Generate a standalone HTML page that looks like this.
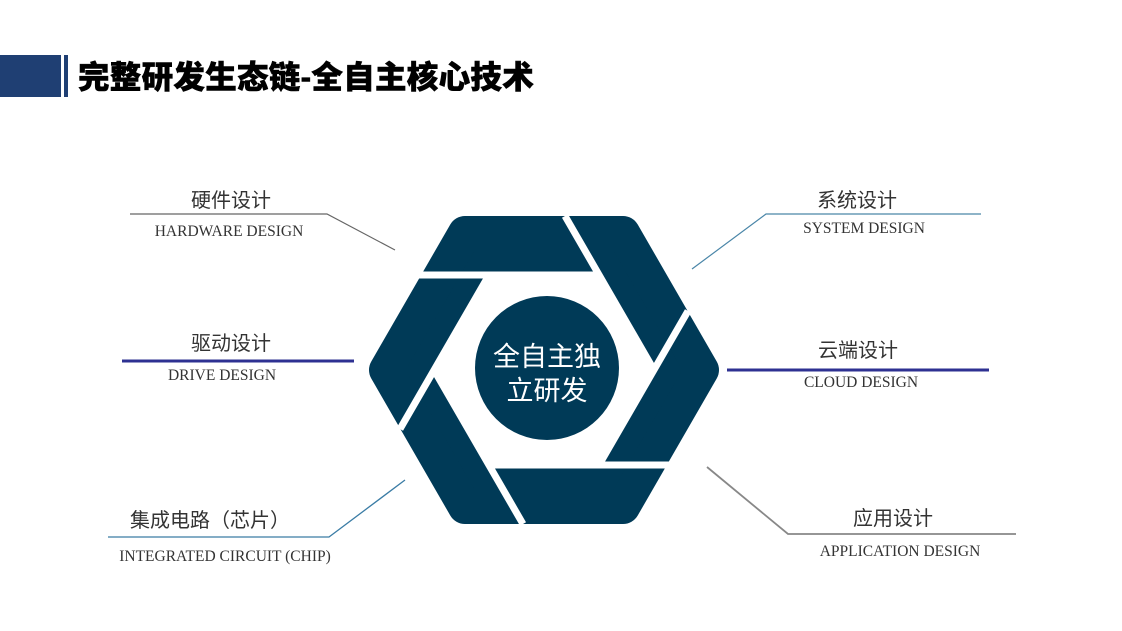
<!DOCTYPE html>
<html><head><meta charset="utf-8"><style>
html,body{margin:0;padding:0;background:#fff;}
body{width:1122px;height:631px;position:relative;overflow:hidden;}
.t{position:absolute;white-space:nowrap;transform:translateX(-50%);}
.cn{font-family:"Liberation Sans","Noto Sans CJK SC",sans-serif;font-size:20px;color:#333;}
.en{font-family:"Liberation Serif",serif;font-size:15.5px;color:#333;}
</style></head><body>
<div style="position:absolute;left:0;top:55px;width:61px;height:42px;background:#1f3f73"></div>
<div style="position:absolute;left:64px;top:55px;width:4px;height:42px;background:#1f3f73"></div>
<div style="position:absolute;left:78px;top:56px;font-family:'Liberation Sans','Noto Sans CJK SC',sans-serif;font-weight:900;font-size:31.5px;letter-spacing:0.3px;color:#000;line-height:42px;-webkit-text-stroke:0.6px #000;">完整研发生态链-全自主核心技术</div>

<svg width="1122" height="631" style="position:absolute;left:0;top:0">
  <polygon points="702,370 623,233 465,233 386,370 465,507 623,507" fill="#003a57" stroke="#003a57" stroke-width="34" stroke-linejoin="round"/>
  <polygon points="654,370 599,275 489,275 434,370 489,465 599,465" fill="#fff"/>
  <g stroke="#fff" stroke-width="7">
    <line x1="654" y1="370" x2="565" y2="216"/>
    <line x1="599" y1="275" x2="360" y2="275"/>
    <line x1="489" y1="275" x2="400" y2="429"/>
    <line x1="434" y1="370" x2="523" y2="524"/>
    <line x1="489" y1="465" x2="728" y2="465"/>
    <line x1="599" y1="465" x2="688" y2="311"/>
  </g>
  <circle cx="547" cy="368" r="72" fill="#003a57"/>
  <text x="547" y="366" text-anchor="middle" font-family="Liberation Sans,Noto Sans CJK SC,sans-serif" font-size="27" fill="#fff">全自主独</text>
  <text x="547" y="400" text-anchor="middle" font-family="Liberation Sans,Noto Sans CJK SC,sans-serif" font-size="27" fill="#fff">立研发</text>

  <polyline points="130,214 327,214 395,250" fill="none" stroke="#666" stroke-width="1.2"/>
  <line x1="122" y1="361" x2="354" y2="361" stroke="#2e3192" stroke-width="3"/>
  <polyline points="692,269 766,214 981,214" fill="none" stroke="#4a86a8" stroke-width="1.2"/>
  <line x1="727" y1="370" x2="989" y2="370" stroke="#2e3192" stroke-width="3"/>
  <polyline points="108,537 329,537 405,480" fill="none" stroke="#3a7ca5" stroke-width="1.3"/>
  <polyline points="707,467 788,534 1016,534" fill="none" stroke="#888" stroke-width="1.8"/>
</svg>

<div class="t cn" style="left:231px;top:184px">硬件设计</div>
<div class="t en" style="left:229px;top:223px">HARDWARE DESIGN</div>
<div class="t cn" style="left:231px;top:327px">驱动设计</div>
<div class="t en" style="left:222px;top:367px">DRIVE DESIGN</div>
<div class="t cn" style="left:857px;top:184px">系统设计</div>
<div class="t en" style="left:864px;top:220px">SYSTEM DESIGN</div>
<div class="t cn" style="left:858px;top:334px">云端设计</div>
<div class="t en" style="left:861px;top:374px">CLOUD DESIGN</div>
<div class="t cn" style="left:210px;top:504px">集成电路（芯片）</div>
<div class="t en" style="left:225px;top:548px">INTEGRATED CIRCUIT (CHIP)</div>
<div class="t cn" style="left:893px;top:502px">应用设计</div>
<div class="t en" style="left:900px;top:543px">APPLICATION DESIGN</div>
</body></html>
